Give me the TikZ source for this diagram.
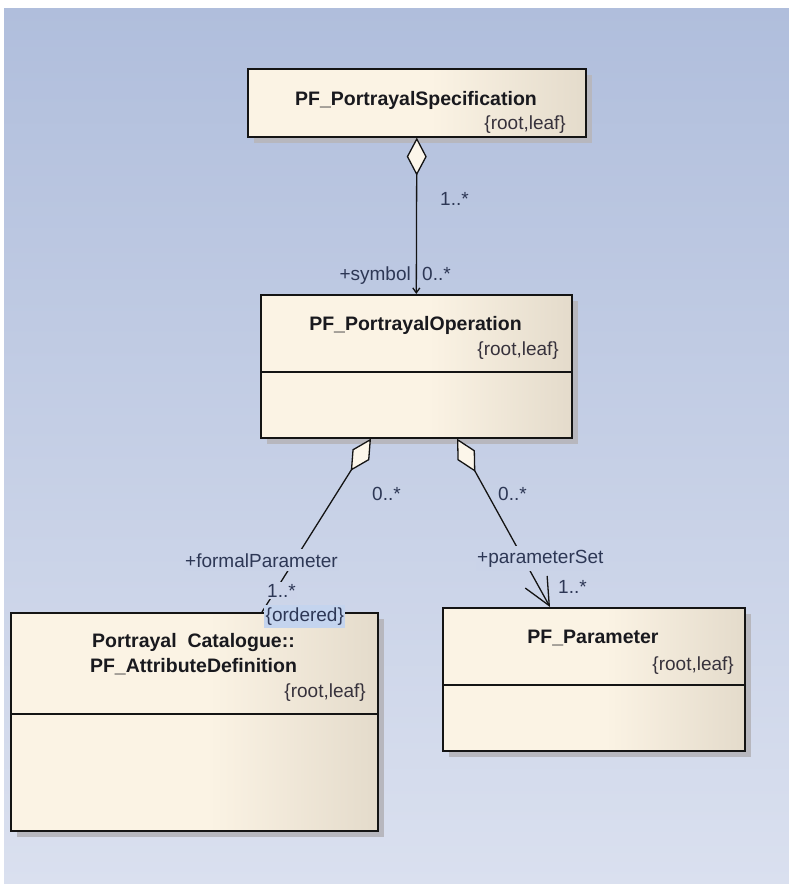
\documentclass[tikz,border=0pt]{standalone}
\usepackage{fontspec}
\setmainfont{Liberation Sans}
\usetikzlibrary{arrows.meta,shadows,calc}
\definecolor{bgTop}{RGB}{176,190,220}
\definecolor{bgBot}{RGB}{218,224,239}
\definecolor{boxL}{RGB}{251,243,228}
\definecolor{boxR}{RGB}{228,219,203}
\definecolor{shadowcol}{RGB}{183,183,190}
\definecolor{dfill}{RGB}{252,246,234}
\definecolor{labelcol}{RGB}{45,55,85}
\definecolor{titlecol}{RGB}{25,25,30}
\definecolor{tagcol}{RGB}{55,50,60}
\definecolor{linecol}{RGB}{20,20,20}
\definecolor{hilite}{RGB}{196,212,238}
\colorlet{bgA}{bgBot!63!bgTop}
\colorlet{bgB}{bgBot!66!bgTop}
\pgfdeclarehorizontalshading{boxshade}{100bp}{color(0bp)=(boxL); color(25bp)=(boxL); color(52bp)=(boxL); color(75bp)=(boxR); color(100bp)=(boxR)}
\newcommand\ttlfont{\fontsize{19.5}{23}\selectfont\bfseries}
\newcommand\regfont{\fontsize{19}{22}\selectfont}
\begin{document}
\begin{tikzpicture}[x=1pt,y=-1pt,
  umlbox/.style={rectangle, draw=linecol, line width=1.6pt, shade, shading=boxshade,
    anchor=north west, inner sep=0pt,
    drop shadow={shadow xshift=6pt, shadow yshift=-6pt, fill=shadowcol, opacity=1}},
  ttl/.style={font=\ttlfont, text=titlecol, anchor=base, inner sep=0pt},
  tag/.style={font=\regfont, text=tagcol, anchor=base east, inner sep=0pt},
  lbl/.style={font=\regfont, text=labelcol, anchor=base west, inner sep=0pt},
  divider/.style={draw=linecol, line width=1.6pt},
  assoc/.style={draw=linecol, line width=1.3pt},
  agg/.style={{Diamond[length=38pt,width=20pt,fill=dfill]}},
]
\useasboundingbox (0,0) rectangle (789,884);
\fill[white] (0,0) rectangle (789,884);
\shade[top color=bgTop, bottom color=bgBot] (4,8) rectangle (789,884);

% boxes
\node[umlbox, minimum width=338pt, minimum height=68pt] (spec) at (247,68) {};
\node[umlbox, minimum width=311pt, minimum height=143pt] (oper) at (260,294) {};
\node[umlbox, minimum width=367pt, minimum height=218pt] (attr) at (10,612) {};
\node[umlbox, minimum width=302pt, minimum height=143pt] (param) at (442,607) {};

% dividers
\draw[divider] (oper.west |- 0,372) -- (oper.east |- 0,372);
\draw[divider] (attr.west |- 0,714) -- (attr.east |- 0,714);
\draw[divider] (param.west |- 0,685) -- (param.east |- 0,685);

% titles
\node[ttl] (specT) at (416,105) {PF\_PortrayalSpecification};
\node[tag] (specR) at (566,129.5) {\{root,leaf\}};
\node[ttl] (operT) at (415.5,330) {PF\_PortrayalOperation};
\node[tag] (operR) at (559,355) {\{root,leaf\}};
\node[ttl] (attrT1) at (193.5,647) {Portrayal\ \ Catalogue::};
\node[ttl] (attrT2) at (193.5,672) {PF\_AttributeDefinition};
\node[tag] (attrR) at (366,697) {\{root,leaf\}};
\node[ttl] (paramT) at (593,643) {PF\_Parameter};
\node[tag] (paramR) at (734,670) {\{root,leaf\}};

% connectors
\draw[assoc, {Diamond[length=38pt,width=20pt,fill=dfill]}-{Straight Barb[length=5pt,width=7pt]}]
  (spec.south) -- (oper.north);
\draw[assoc, {Diamond[length=38pt,width=20pt,fill=dfill]}-]
  ($(oper.south west)+(111,0)$) -- ($(attr.north west)+(252,0)$);
\draw[assoc, {Diamond[length=38pt,width=20pt,fill=dfill]}-{Straight Barb[length=27pt,width=25pt]}]
  ($(oper.south west)+(197,0)$) -- ($(param.north west)+(108,0)$);

% labels
\node[lbl] (m1) at (440,205) {1..*};
\node[lbl, anchor=base east] (r1) at (411,280) {+symbol};
\node[lbl] (m2) at (422,280) {0..*};
\node[lbl] (m3) at (372,500) {0..*};
\node[lbl, fill=bgA, inner xsep=1pt, inner ysep=4pt] (r2) at (184,567) {+formalParameter};
\node[lbl, fill=bgB, inner xsep=1pt, inner ysep=2pt] (m4) at (266,597) {1..*};
\node[lbl, fill=hilite, inner xsep=1.5pt, inner ysep=3pt] (ord) at (264,621.5) {\{ordered\}};
\node[lbl] (m5) at (498,500) {0..*};
\node[lbl, fill=bgA, inner xsep=1pt, inner ysep=4pt] (r3) at (476,563) {+parameterSet};
\node[lbl] (m6) at (558,593) {1..*};
\end{tikzpicture}
\end{document}
